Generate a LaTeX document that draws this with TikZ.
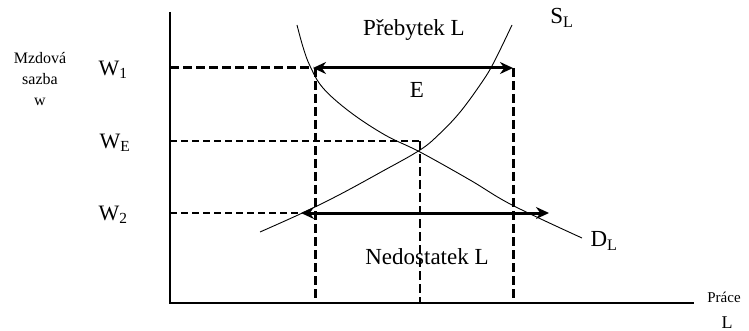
\documentclass[tikz,border=0pt]{standalone}
\usepackage{fontspec}
\setmainfont{Liberation Serif}
\usetikzlibrary{arrows.meta}
\begin{document}
\begin{tikzpicture}[x=1pt,y=-1pt,
  axis/.style={line width=1.5pt},
  thickdash/.style={line width=3pt,dash pattern=on 9pt off 4pt},
  thindash/.style={line width=1.2pt,dash pattern=on 7pt off 4pt},
  curve/.style={line width=0.9pt},
  bigarrow/.style={line width=3pt,{Stealth[length=13pt,width=12pt]}-{Stealth[length=13pt,width=12pt]}},
  lbl/.style={font=\fontsize{23}{25}\selectfont,inner sep=0pt},
  wlbl/.style={font=\fontsize{22}{24}\selectfont,inner sep=0pt},
  small/.style={font=\fontsize{16}{21}\selectfont,inner sep=0pt,align=center}]
\useasboundingbox (0,0) rectangle (749,331);
% axes
\coordinate (O) at (170,303);
\coordinate (ytop) at (170,12);
\coordinate (xend) at (694,303);
\draw[axis] (ytop) -- (O) -- (xend);
% key coordinates
\coordinate (w1) at (170,68);
\coordinate (we) at (170,141);
\coordinate (w2) at (170,213);
\coordinate (a1) at (313,68);
\coordinate (b1) at (513,68);
\coordinate (a2) at (301,213);
\coordinate (b2) at (549,213);
\coordinate (e1) at (420,141);
\coordinate (l1) at (315,303);
\coordinate (le) at (420,303);
\coordinate (l2) at (513,303);
\coordinate (p1) at (315,68);
% dashed guides
\draw[thickdash] (w1) -- (a1);
\draw[thindash] (we) -- (e1);
\draw[thindash] (w2) -- (a2);
\draw[thickdash] (p1) -- (l1);
\draw[thickdash] (b1) -- (l2);
\draw[thickdash,line width=2.5pt] (e1) -- (le);
% curves
\draw[curve] plot[smooth,tension=0.6] coordinates {(297,25) (303,47) (310,66) (323,88) (350,112) (385,135) (420,152) (470,180) (512,205) (582,238)};
\draw[curve] plot[smooth,tension=0.6] coordinates {(260,232) (303,212.7) (340,194.4) (380,172.6) (420,150) (440,133.4) (460,112.2) (480,85) (493,64) (512,25)};
% arrows
\draw[bigarrow] (a1) -- (b1);
\draw[bigarrow] (a2) -- (b2);
% labels
\node[lbl] (preb) at (414,30) {Přebytek L};
\node[lbl] (sl) at (562,18) {S\textsubscript{L}};
\node[lbl] (E) at (417,90) {E};
\node[lbl] (dl) at (604,241) {D\textsubscript{L}};
\node[lbl] (ned) at (427,257) {Nedostatek L};
\node[wlbl] (W1) at (113,70) {W\textsubscript{1}};
\node[wlbl] (WE) at (115,143) {W\textsubscript{E}};
\node[wlbl] (W2) at (113,215) {W\textsubscript{2}};
\node[small] (mz) at (40,79) {Mzdová\\sazba\\w};
\node[inner sep=0pt,font=\fontsize{15}{17}\selectfont] (prace) at (724,297) {Práce};
\node[inner sep=0pt,font=\fontsize{18}{20}\selectfont,anchor=base] (L) at (727,328) {L};
\end{tikzpicture}
\end{document}
